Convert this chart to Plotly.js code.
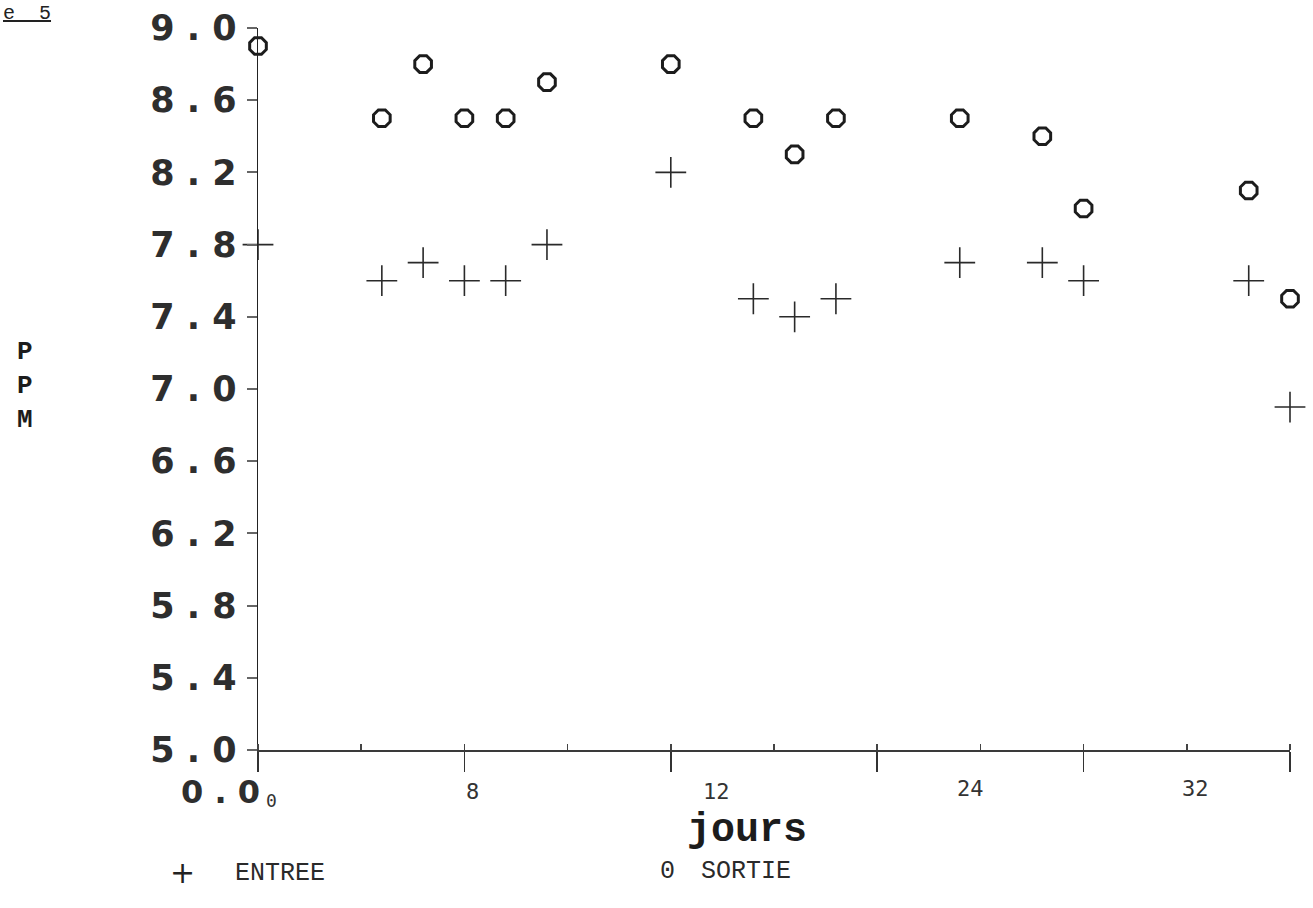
<!DOCTYPE html>
<html>
<head>
<meta charset="utf-8">
<script src="https://cdn.plot.ly/plotly-3.0.1.min.js"></script>
<style>
html,body{margin:0;padding:0;background:#fff;}
#chart{width:1313px;height:908px;}
</style>
</head>
<body>
<div id="chart"></div>
<script>
// Days (jours)
const days = [0, 6, 8, 10, 12, 14, 20, 24, 26, 28, 34, 38, 40, 48, 50];
// ENTREE (+), ppm
const entree = [7.8, 7.6, 7.7, 7.6, 7.6, 7.8, 8.2, 7.5, 7.4, 7.5, 7.7, 7.7, 7.6, 7.6, 6.9];
// SORTIE (O), ppm
const sortie = [8.9, 8.5, 8.8, 8.5, 8.5, 8.7, 8.8, 8.5, 8.3, 8.5, 8.5, 8.4, 8.0, 8.1, 7.5];
// Y tick values and labels
const yTickVals = [5.0, 5.4, 5.8, 6.2, 6.6, 7.0, 7.4, 7.8, 8.2, 8.6, 9.0];
const yTickText = ["5 . 0", "5 . 4", "5 . 8", "6 . 2", "6 . 6", "7 . 0", "7 . 4", "7 . 8", "8 . 2", "8 . 6", "9 . 0"];
// Hand-typed day labels under the axis
const dayLabels = ["0", "8", "12", "24", "32"];
const dayLabelPos = [0.3, 10.4, 22.2, 34.5, 45.4];

const L = 258, R = 23, T = 28, B = 158, W = 1313, H = 908;
const PW = W - L - R, PH = H - T - B;
const px = p => (p - L) / PW;
const py = p => (H - B - p) / PH;

const ink = '#1c1c1c';
const monoB = {family: 'Liberation Mono, DejaVu Sans Mono, monospace', weight: 'bold', color: ink};
const plotterFont = {family: 'DejaVu Sans, sans-serif', weight: 'bold', size: 35, color: '#2e2e2e'};
const typeFont = {family: 'DejaVu Sans Mono, monospace', size: 22, color: '#333'};

const traces = [
  {
    x: days, y: entree, name: 'ENTREE', type: 'scatter', mode: 'markers',
    marker: {symbol: 'cross-thin-open', size: 22, color: '#2a2a2a', line: {width: 1.6, color: '#2a2a2a'}},
    cliponaxis: false
  },
  {
    x: days, y: sortie, name: 'SORTIE', type: 'scatter', mode: 'markers',
    marker: {symbol: 'octagon-open', size: 18, color: ink, line: {width: 3, color: ink}},
    cliponaxis: false
  }
];

const annotations = [];
// plotter "0.0" at origin
annotations.push({xref: 'paper', yref: 'paper', x: px(262), y: py(792), xanchor: 'right', yanchor: 'middle',
  text: '0 . 0', showarrow: false, font: Object.assign({}, plotterFont, {size: 32})});
// typed day labels
dayLabels.forEach((t, i) => {
  annotations.push({xref: 'x', yref: 'paper', x: dayLabelPos[i], y: py(i === 0 ? 800 : (i < 3 ? 791 : 788)), xanchor: i === 0 ? 'left' : 'center', yanchor: 'middle',
    text: t, showarrow: false, font: Object.assign({}, typeFont, i === 0 ? {size: 18} : {})});
});
// axis title jours
annotations.push({xref: 'paper', yref: 'paper', x: px(747), y: py(830), xanchor: 'center', yanchor: 'middle',
  text: 'jours', showarrow: false, font: Object.assign({}, monoB, {size: 40})});
// vertical ppm letters
annotations.push({xref: 'paper', yref: 'paper', x: px(25), y: py(386), xanchor: 'center', yanchor: 'middle',
  text: 'P<br>P<br>M', showarrow: false, font: Object.assign({}, monoB, {size: 26})});
// legend (typed)
const legFont = {family: 'Liberation Mono, Courier New, monospace', size: 25, color: '#2a2a2a'};
annotations.push({xref: 'paper', yref: 'paper', x: px(182), y: py(872), xanchor: 'center', yanchor: 'middle',
  text: '+', showarrow: false, font: {family: 'DejaVu Sans, sans-serif', size: 30, color: '#222'}});
annotations.push({xref: 'paper', yref: 'paper', x: px(280), y: py(873), xanchor: 'center', yanchor: 'middle',
  text: 'ENTREE', showarrow: false, font: legFont});
annotations.push({xref: 'paper', yref: 'paper', x: px(667), y: py(871), xanchor: 'center', yanchor: 'middle',
  text: '0', showarrow: false, font: legFont});
annotations.push({xref: 'paper', yref: 'paper', x: px(746), y: py(871), xanchor: 'center', yanchor: 'middle',
  text: 'SORTIE', showarrow: false, font: legFont});
// cut-off figure caption at top-left
annotations.push({xref: 'paper', yref: 'paper', x: px(1), y: py(14), xanchor: 'left', yanchor: 'middle',
  text: '<u>e  5</u>', showarrow: false, font: {family: 'Liberation Mono, monospace', size: 20, color: '#222'}});

const layout = {
  width: W, height: H,
  margin: {l: L, r: R, t: T, b: B, pad: 0},
  paper_bgcolor: '#fff', plot_bgcolor: '#fff',
  showlegend: false,
  xaxis: {
    range: [0, 50], showgrid: false, zeroline: false,
    showline: true, linecolor: '#3a3a3a', linewidth: 2,
    tickmode: 'linear', tick0: 0, dtick: 10,
    ticks: 'outside', ticklen: 20, tickwidth: 1.5, tickcolor: '#333',
    showticklabels: false,
    minor: {tickmode: 'linear', tick0: 0, dtick: 5, ticks: 'inside', ticklen: 6, tickwidth: 1.5, tickcolor: '#444'}
  },
  yaxis: {
    range: [5, 9], showgrid: false, zeroline: false,
    showline: true, linecolor: '#222', linewidth: 1.5,
    tickmode: 'array', tickvals: yTickVals, ticktext: yTickText,
    ticks: 'outside', ticklen: 10, tickwidth: 2, tickcolor: '#666',
    ticklabelstandoff: 3,
    tickfont: plotterFont
  },
  annotations: annotations
};

Plotly.newPlot('chart', traces, layout, {displayModeBar: false, staticPlot: true});
</script>
</body>
</html>
